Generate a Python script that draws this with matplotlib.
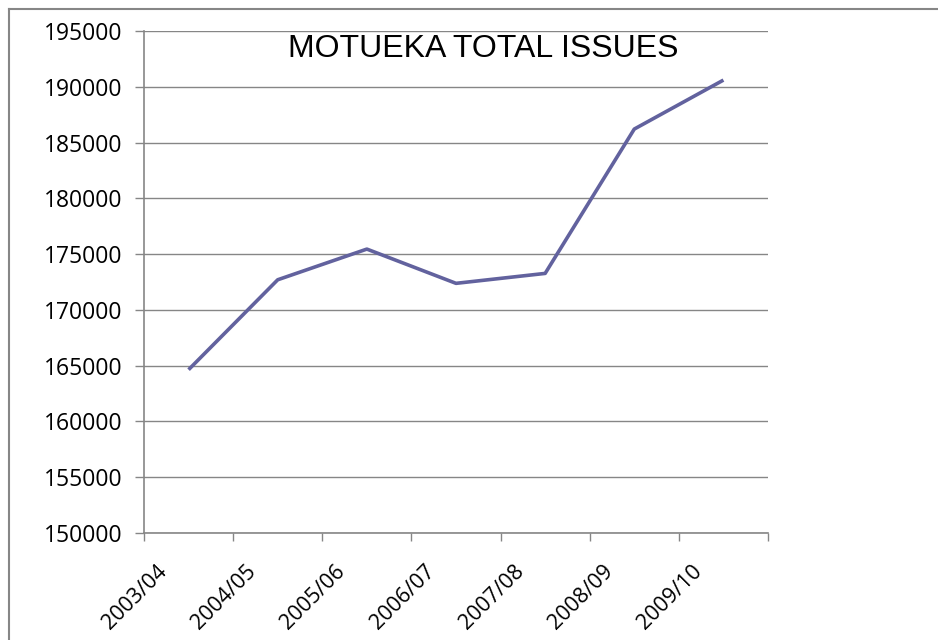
import matplotlib.pyplot as plt
from matplotlib.lines import Line2D
from matplotlib.transforms import ScaledTranslation

years = ["2003/04", "2004/05", "2005/06", "2006/07", "2007/08", "2008/09", "2009/10"]
total_issues = [164640, 172700, 175450, 172380, 173270, 186210, 190600]
y_ticks = list(range(150000, 195001, 5000))

grey = "#868686"
line_colour = "#62629E"

fig = plt.figure(figsize=(9.38, 6.40), dpi=100)
ax = fig.add_axes([144 / 938, 1 - 533 / 640, (768 - 144) / 938, (533 - 31) / 640])

x = [i + 0.5 for i in range(len(years))]
ax.plot(x, total_issues, color=line_colour, linewidth=2.6, solid_capstyle="butt")

ax.set_xlim(0, len(years))
ax.set_ylim(150000, 195000)
ax.set_yticks(y_ticks)
ax.set_yticklabels([str(v) for v in y_ticks], fontfamily="Open Sans", fontsize=16.5)
ax.set_xticks(range(len(years) + 1))
ax.set_xticklabels([])
ax.set_xticks(x, minor=True)
ax.set_xticklabels(years, minor=True, rotation=45, ha="right", va="top",
                   rotation_mode="anchor", fontfamily="Open Sans", fontsize=15.5)
ax.tick_params(axis="x", which="minor", length=0, pad=20)
ax.tick_params(axis="x", which="major", length=6, color=grey, width=1)
ax.tick_params(axis="y", length=6.5, color=grey, width=1, pad=9)

# shift rotated labels left so their top end sits left of the category centre
shift = ScaledTranslation(-32 / 100, 0, fig.dpi_scale_trans)
for lab in ax.get_xticklabels(minor=True):
    lab.set_transform(lab.get_transform() + shift)

ax.grid(axis="y", color=grey, linewidth=1)
ax.set_axisbelow(True)
for side in ["top", "right"]:
    ax.spines[side].set_visible(False)
for side in ["left", "bottom"]:
    ax.spines[side].set_color(grey)
    ax.spines[side].set_linewidth(1.2)

ax.text(0.543, 0.965, "MOTUEKA TOTAL ISSUES", transform=ax.transAxes, ha="center", va="center",
        fontfamily="Liberation Sans", fontsize=23)

# outer chart border (bottom and right run off the picture)
bx0, by0 = 9 / 938, 1 - 8.5 / 640
fig.add_artist(Line2D([bx0, bx0], [-0.05, by0], color=grey, linewidth=1.5, transform=fig.transFigure))
fig.add_artist(Line2D([bx0, 1.05], [by0, by0], color=grey, linewidth=1.5, transform=fig.transFigure))

fig.savefig("out.png", dpi=100)
